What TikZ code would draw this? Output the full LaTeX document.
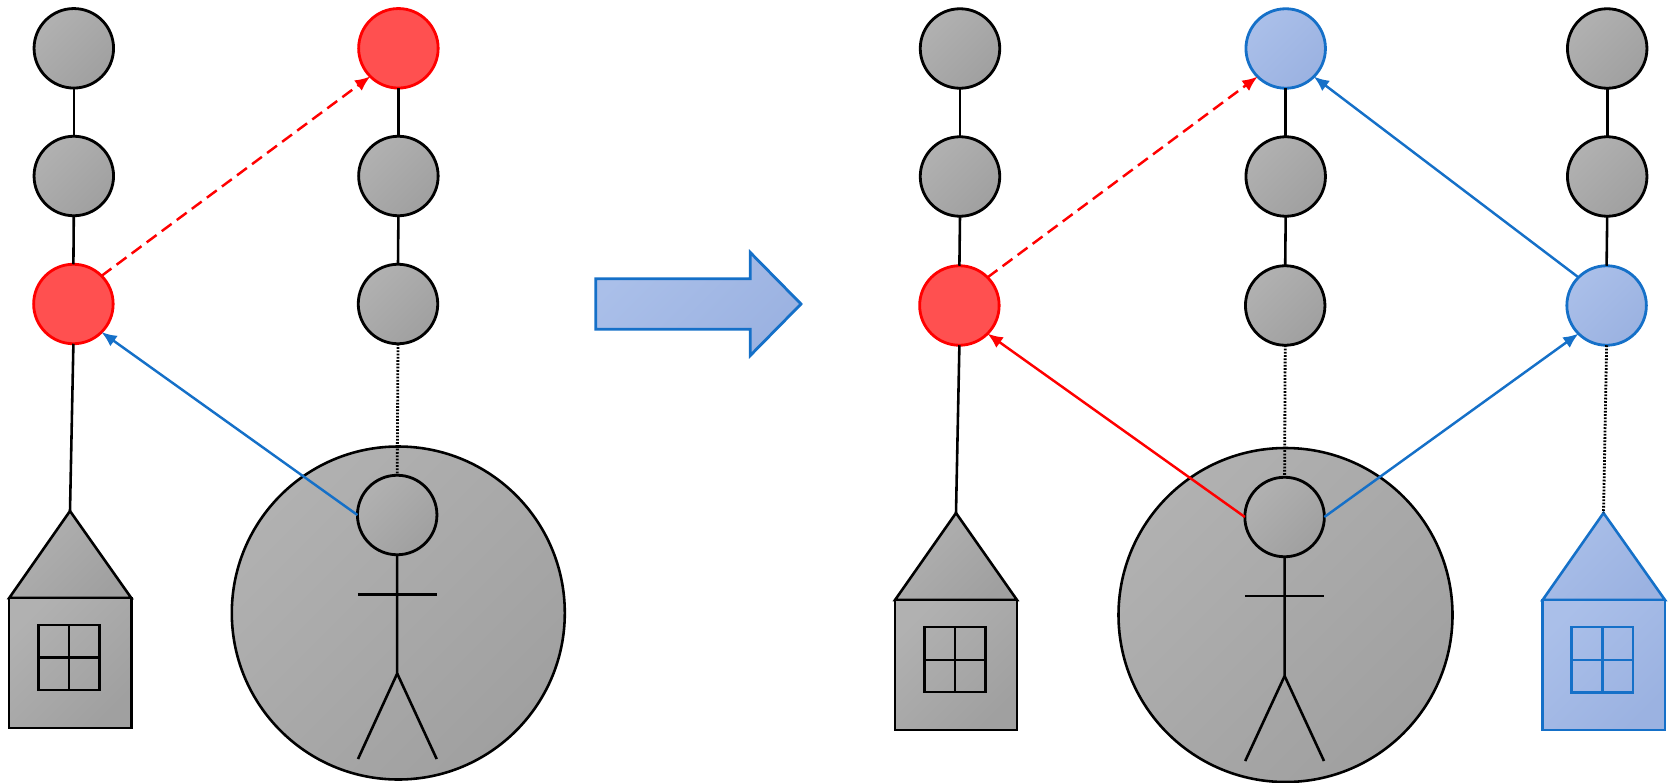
\documentclass[tikz,border=0pt]{standalone}
\usetikzlibrary{%
		arrows.meta%
	}

\definecolor{grayA}{HTML}{B1B1B1}
\definecolor{grayB}{HTML}{A0A0A0}
\definecolor{redA}{HTML}{FF5050}
\definecolor{blueA}{HTML}{AABFE9}
\definecolor{blueB}{HTML}{9BB2E1}
\definecolor{blueline}{HTML}{1570C8}

\tikzset{%
	grayfill/.style={top color=grayA, bottom color=grayB, shading angle=45},
	bluefill/.style={top color=blueA, bottom color=blueB, shading angle=45},
	ball/.style={circle, inner sep=0pt, outer sep=0pt, minimum size=79.5*0.03cm, line width=2.4pt},
	grayball/.style={ball, draw=black, grayfill},
	redball/.style={ball, draw=red, fill=redA},
	blueball/.style={ball, draw=blueline, bluefill},
	link/.style={black, line width=2.2pt},
	dotlink/.style={black, line width=2.4pt, dash pattern=on 1.5pt off 1.3pt},
	bluearrow/.style={blueline, line width=2.1pt, -{Latex[length=13pt,width=11pt]}},
	redarrow/.style={red, line width=2.1pt, -{Latex[length=13pt,width=11pt]}},
	reddash/.style={redarrow, dash pattern=on 10.5pt off 5.5pt},
	stickman/.style={black, line width=2.2pt},
	wall/.style={line width=2.2pt, line join=miter},
}

\begin{document}
\begin{tikzpicture}[x=0.03cm, y=-0.03cm]
			\useasboundingbox (0,0) rectangle (1673,783);

			\node[grayball, minimum size=333*0.03cm, line width=2.2pt] (crowdL) at (398.3,613) {};
			\node[grayball, minimum size=334*0.03cm, line width=2.2pt] (crowdR) at (1285.5,615) {};

			\node[grayball] (a1) at (73.8,48.3) {};
			\node[grayball] (a2) at (73.8,176) {};
			\node[redball] (a3) at (73.4,304) {};
			\node[redball] (b1) at (398.4,48.3) {};
			\node[grayball] (b2) at (398.4,176) {};
			\node[grayball] (b3) at (398,304) {};
			\node[grayball] (headL) at (397.2,515) {};

			\node[grayball] (c1) at (960,48.5) {};
			\node[grayball] (c2) at (960,176.5) {};
			\node[redball] (c3) at (959.4,305.5) {};
			\node[blueball] (d1) at (1285.7,48.5) {};
			\node[grayball] (d2) at (1285.7,176.5) {};
			\node[grayball] (d3) at (1285.2,305.5) {};
			\node[grayball] (headR) at (1284.6,517) {};
			\node[grayball] (e1) at (1607.2,48.5) {};
			\node[grayball] (e2) at (1607.2,176.5) {};
			\node[blueball] (e3) at (1606.6,305.5) {};

			\coordinate (roofL) at (70,511);
			\coordinate (roofM) at (956,513);
			\coordinate (roofR) at (1603.5,513);

			\draw[wall, draw=black, grayfill] (roofL) -- (131.3,598) -- (9.2,598) -- cycle;
			\draw[wall, draw=black, grayfill] (9.2,598) rectangle (131.3,728);
			\draw[wall, black] (38.3,625) rectangle (99.5,690);
			\draw[wall, black] (68.9,625) -- (68.9,690);
			\draw[wall, black] (38.3,657.5) -- (99.5,657.5);

			\draw[wall, draw=black, grayfill] (roofM) -- (1017,600) -- (895,600) -- cycle;
			\draw[wall, draw=black, grayfill] (895,600) rectangle (1017,730);
			\draw[wall, black] (924.5,627) rectangle (985.5,692);
			\draw[wall, black] (955,627) -- (955,692);
			\draw[wall, black] (924.5,660) -- (985.5,660);

			\draw[wall, draw=blueline, bluefill] (roofR) -- (1665,600) -- (1542.6,600) -- cycle;
			\draw[wall, draw=blueline, bluefill] (1542.6,600) rectangle (1665,730);
			\draw[wall, blueline] (1571.5,627) rectangle (1633,692.5);
			\draw[wall, blueline] (1602.5,627) -- (1602.5,692.5);
			\draw[wall, blueline] (1571.5,660) -- (1633,660);

			\draw[stickman] (headL.south) -- (397.2,673.5) -- (358,759);
			\draw[stickman] (397.2,673.5) -- (436.7,759);
			\draw[stickman] (357.8,594.5) -- (436.7,594.5);

			\draw[stickman] (headR.south) -- (1284.6,676) -- (1245.2,761);
			\draw[stickman] (1284.6,676) -- (1324,761);
			\draw[stickman] (1245.2,596) -- (1324,596);

			\draw[link] (a1.south) -- (a2.north);
			\draw[link] (a2.south) -- (a3.north);
			\draw[link] (a3.south) -- (roofL);
			\draw[link] (b1.south) -- (b2.north);
			\draw[link] (b2.south) -- (b3.north);
			\draw[dotlink] (b3.south) -- (headL.north);

			\draw[link] (c1.south) -- (c2.north);
			\draw[link] (c2.south) -- (c3.north);
			\draw[link] (c3.south) -- (roofM);
			\draw[link] (d1.south) -- (d2.north);
			\draw[link] (d2.south) -- (d3.north);
			\draw[dotlink] (d3.south) -- (headR.north);
			\draw[link] (e1.south) -- (e2.north);
			\draw[link] (e2.south) -- (e3.north);
			\draw[dotlink] (e3.south) -- (roofR);

			\draw[bluearrow] (headL.west) -- (a3.south east);
			\draw[reddash] (a3.north east) -- (b1.south west);

			\draw[redarrow] (headR.west) -- (c3.south east);
			\draw[reddash] (c3.north east) -- (d1.south west);
			\draw[bluearrow] (headR.east) -- (e3.south west);
			\draw[bluearrow] (e3.north west) -- (d1.south east);

			\draw[line width=2.4pt, draw=blueline, bluefill, miter limit=10] (595.7,278.7) -- (750.3,278.7) -- (750.3,252.5) -- (801,304) -- (750.3,355.5) -- (750.3,329.3) -- (595.7,329.3) -- cycle;
		\end{tikzpicture}
\end{document}
